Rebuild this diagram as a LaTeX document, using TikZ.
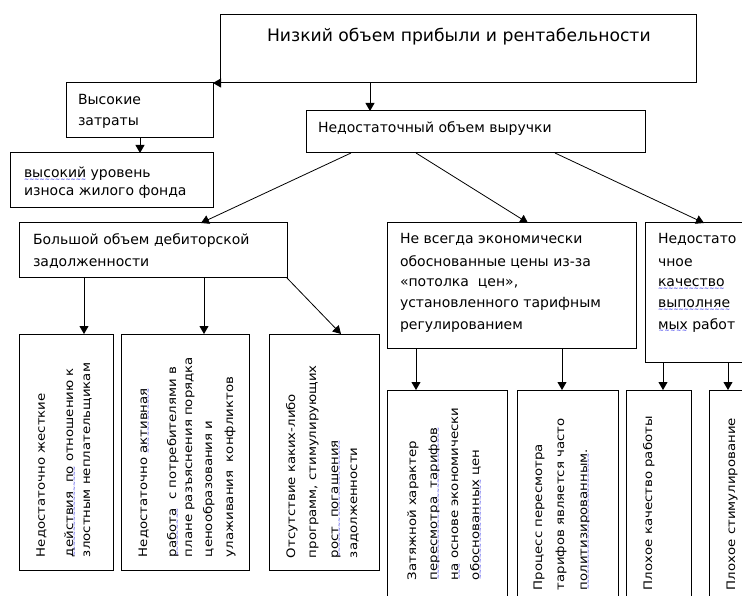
\documentclass[tikz,border=0pt]{standalone}
\usepackage{graphicx}
\usepackage{fontspec}
\setmainfont{DejaVu Sans}
\usetikzlibrary{arrows.meta}
\definecolor{sqc}{RGB}{60,60,235}
\newsavebox\sqbox
\newcommand\sq[1]{\sbox\sqbox{#1}\rlap{\raisebox{-3.4pt}[0pt][0pt]{\textcolor{sqc}{\fontsize{6}{6}\selectfont\bfseries\hbox to \wd\sqbox{\xleaders\hbox{∼}\hfill}}}}\usebox\sqbox}
\newcommand\bodyf{\fontsize{14}{21}\selectfont}
\newcommand\vertf{\fontsize{13.3}{20}\selectfont}
\newcommand\titlef{\fontsize{17.2}{21}\selectfont}
\newcommand\vt[1]{\scalebox{1}[0.88]{#1}}
\tikzset{
  box/.style={draw, line width=1pt, inner sep=0pt, outer sep=0pt, anchor=north west},
  arr/.style={line width=0.8pt, -{Triangle[length=8pt,width=9pt]}},
  txt/.style={inner sep=0pt, outer sep=0pt, anchor=base west, font=\bodyf},
  vtxt/.style={txt, font=\vertf, rotate=90},
}
\begin{document}
\begin{tikzpicture}[x=1pt, y=-1pt]
\useasboundingbox (0,0) rectangle (742,596);
\fill[white] (0,0) rectangle (742,596);
\clip (0,0) rectangle (742,596);

% boxes
\node[box, minimum width=476pt, minimum height=68pt] (top) at (220,15) {};
\node[box, minimum width=147pt, minimum height=55pt] (vys) at (66,83) {};
\node[box, minimum width=203pt, minimum height=55pt] (vysur) at (10,153) {};
\node[box, minimum width=339pt, minimum height=42pt] (nedv) at (306,111) {};
\node[box, minimum width=268pt, minimum height=55pt] (bolsh) at (19,223) {};
\node[box, minimum width=249pt, minimum height=125pt] (nevs) at (387,223) {};
\node[box, minimum width=120pt, minimum height=139pt] (nedq) at (645,223) {};
\node[box, minimum width=94pt, minimum height=236pt] (b1) at (19,334) {};
\node[box, minimum width=128pt, minimum height=236pt] (b2) at (121,334) {};
\node[box, minimum width=110pt, minimum height=236pt] (b3) at (269,334) {};
\node[box, minimum width=120pt, minimum height=240pt] (b4) at (387,390) {};
\node[box, minimum width=101pt, minimum height=240pt] (b5) at (517,390) {};
\node[box, minimum width=65pt, minimum height=240pt] (b6) at (626,390) {};
\node[box, minimum width=80pt, minimum height=240pt] (b7) at (709,390) {};

% connectors
\draw[arr] (top.south west) -- (vys.north east);
\draw[arr] ([xshift=150pt]top.south west) -- ([xshift=64pt]nedv.north west);
\draw[arr] ([xshift=74pt]vys.south west) -- ([xshift=130pt]vysur.north west);
\draw[arr] ([xshift=45pt]nedv.south west) -- ([xshift=182pt]bolsh.north west);
\draw[arr] ([xshift=110pt]nedv.south west) -- ([xshift=141pt]nevs.north west);
\draw[arr] ([xshift=249pt]nedv.south west) -- ([xshift=59pt]nedq.north west);
\draw[arr] ([xshift=65pt]bolsh.south west) -- ([xshift=65pt]b1.north west);
\draw[arr] ([xshift=185pt]bolsh.south west) -- ([xshift=83pt]b2.north west);
\draw[arr] (bolsh.south east) -- ([xshift=72pt]b3.north west);
\draw[arr] ([xshift=29pt]nevs.south west) -- ([xshift=29pt]b4.north west);
\draw[arr] ([xshift=175pt]nevs.south west) -- ([xshift=45pt]b5.north west);
\draw[arr] ([xshift=18pt]nedq.south west) -- ([xshift=37pt]b6.north west);
\draw[arr] ([xshift=83pt]nedq.south west) -- ([xshift=19pt]b7.north west);

% horizontal texts
\node[txt, font=\titlef] (topt) at (267,42) {Низкий объем прибыли и рентабельности};
\node[txt] (vysa) at (78,105) {Высокие};
\node[txt] (vysb) at (78,126) {затраты};
\node[txt] (nedvt) at (318,133) {Недостаточный объем выручки};
\node[txt] (vysura) at (24,178) {\sq{высокий} уровень};
\node[txt] (vysurb) at (24,196) {износа жилого фонда};
\node[txt] (bolsha) at (33,245) {Большой объем дебиторской};
\node[txt] (bolshb) at (33,266) {задолженности};
\node[txt] (nevsa) at (400,244) {Не всегда экономически};
\node[txt] (nevsb) at (400,266) {обоснованные цены из-за};
\node[txt] (nevsc) at (400,287) {«потолка~ цен»,};
\node[txt] (nevsd) at (400,308) {установленного тарифным};
\node[txt] (nevse) at (400,329) {регулированием};
\node[txt] (nedqa) at (658,244) {Недостато};
\node[txt] (nedqb) at (658,266) {чное};
\node[txt] (nedqc) at (658,287) {\sq{качество}};
\node[txt] (nedqd) at (658,308) {\sq{выполняе}};
\node[txt] (nedqe) at (658,329) {\sq{мых} работ};

% vertical texts
\node[vtxt] (b1a) at (45,557) {\vt{Недостаточно жесткие}};
\node[vtxt] (b1b) at (73,557) {\vt{\sq{действия~ по} отношению к}};
\node[vtxt] (b1c) at (90,557) {\vt{злостным неплательщикам}};
\node[vtxt] (b2a) at (147,557) {\vt{Недостаточно \sq{активная}}};
\node[vtxt] (b2b) at (176,557) {\vt{\sq{работа}~ с потребителями в}};
\node[vtxt] (b2c) at (192,557) {\vt{плане разъяснения порядка}};
\node[vtxt] (b2d) at (212,557) {\vt{ценообразования и}};
\node[vtxt] (b2e) at (233,557) {\vt{улаживания~ конфликтов}};
\node[vtxt] (b3a) at (295,558) {\vt{Отсутствие каких-либо}};
\node[vtxt] (b3b) at (316,558) {\vt{программ, стимулирующих}};
\node[vtxt] (b3c) at (338,558) {\vt{\sq{рост~ погашения}}};
\node[vtxt] (b3d) at (357,558) {\vt{задолженности}};
\node[vtxt] (b4a) at (416,580) {\vt{Затяжной характер}};
\node[vtxt] (b4b) at (437,580) {\vt{\sq{пересмотра~ тарифов}}};
\node[vtxt] (b4c) at (458,580) {\vt{\sq{на} основе экономически}};
\node[vtxt] (b4d) at (479,580) {\vt{\sq{обоснованных} цен}};
\node[vtxt] (b5a) at (542,590) {\vt{Процесс пересмотра}};
\node[vtxt] (b5b) at (564,590) {\vt{тарифов является часто}};
\node[vtxt] (b5c) at (587,590) {\vt{\sq{политизированным}.}};
\node[vtxt] (b6a) at (652,590) {\vt{Плохое качество работы}};
\node[vtxt] (b7a) at (735,590) {\vt{Плохое стимулирование}};
\end{tikzpicture}
\end{document}
